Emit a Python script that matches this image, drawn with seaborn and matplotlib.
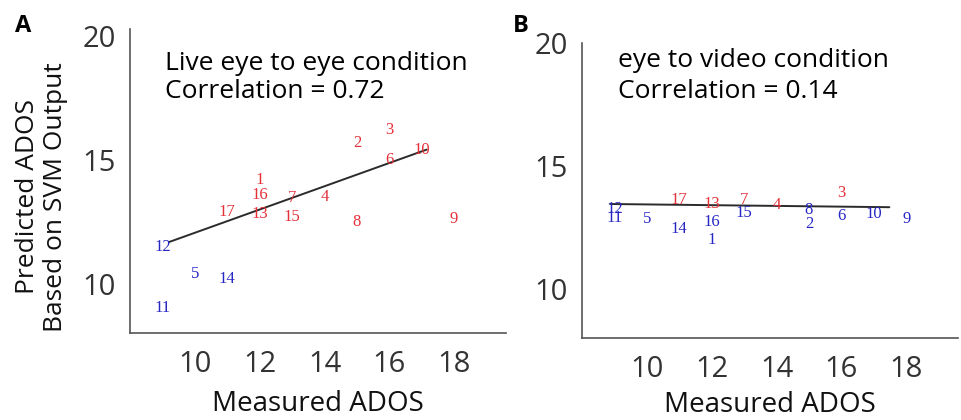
import matplotlib
matplotlib.use("Agg")
import matplotlib.pyplot as plt
import numpy as np
import pandas as pd
import seaborn as sns

# Subject ids and measured ADOS (same in both panels)
subject = list(range(1, 18))
measured = [12, 15, 16, 14, 10, 16, 13, 15, 18, 17, 9, 9, 12, 11, 13, 12, 11]

# Panel A: live eye to eye condition
pred_live = [14.2, 15.7, 16.2, 13.5, 10.4, 15.0, 13.45, 12.5, 12.6, 15.4,
             9.0, 11.5, 12.8, 10.2, 12.7, 13.6, 12.9]
group_live = ["r", "r", "r", "r", "b", "r", "r", "r", "r", "r",
              "b", "b", "r", "b", "r", "r", "r"]
fit_live_x = [9.2, 17.15]
fit_live_y = [11.68, 15.42]

# Panel B: eye to video condition
pred_video = [12.0, 12.65, 13.9, 13.4, 12.85, 12.95, 13.6, 13.2, 12.85, 13.05,
              12.9, 13.25, 13.45, 12.45, 13.1, 12.7, 13.6]
group_video = ["b", "b", "r", "r", "b", "b", "r", "b", "b", "b",
               "b", "b", "r", "b", "b", "b", "r"]
fit_video_x = [8.87, 17.48]
fit_video_y = [13.45, 13.32]

xticks = [10, 12, 14, 16, 18]
yticks = [10, 15, 20]
colors = {"r": "#e5303a", "b": "#2626c4"}

sns.set_style("white")
plt.rcParams["font.family"] = ["Open Sans", "DejaVu Sans"]

fig = plt.figure(figsize=(9.61, 4.2), dpi=100)
axA = fig.add_axes([0.1353, 0.207, 0.3912, 0.724])
axB = fig.add_axes([0.6055, 0.195, 0.3915, 0.703])


def panel(ax, pred, group, fx, fy, ytop, xpad):
    df = pd.DataFrame({"measured": measured, "pred": pred, "group": group,
                       "id": subject})
    fit = pd.DataFrame({"x": fx, "y": fy})
    sns.lineplot(data=fit, x="x", y="y", ax=ax, color="#2b2b2b", lw=1.4)
    for _, r in df.iterrows():
        ax.text(r["measured"], r["pred"], str(r["id"]), color=colors[r["group"]],
                ha="center", va="center", fontsize=12,
                family="Liberation Serif")
    ax.set_xlim(8, 19.6)
    ax.set_ylim(8, ytop)
    ax.set_xticks(xticks)
    ax.set_yticks(yticks)
    sns.despine(ax=ax)
    for s in ["left", "bottom"]:
        ax.spines[s].set_color("#555555")
        ax.spines[s].set_linewidth(1.2)
    ax.tick_params(direction="in", length=4, width=1, color="#555555",
                   labelsize=21, labelcolor="#333333")
    ax.tick_params(axis="x", pad=12)
    ax.tick_params(axis="y", pad=10)
    ax.set_xlabel("Measured ADOS", fontsize=20, color="#111111", labelpad=xpad)
    ax.set_ylabel("")


panel(axA, pred_live, group_live, fit_live_x, fit_live_y, 20.3, 8)
panel(axB, pred_video, group_video, fit_video_x, fit_video_y, 20.0, 5)

fig.text(0.043, 1 - 197 / 420, "Predicted ADOS\nBased on SVM Output",
         rotation=90, ha="center", va="center", fontsize=19,
         color="#111111", linespacing=1.15)

fig.text(0.1717, 1 - 70 / 420, "Live eye to eye condition", fontsize=19,
         va="baseline", color="black")
fig.text(0.1717, 1 - 98 / 420, "Correlation = 0.72", fontsize=19,
         va="baseline", color="black")
fig.text(0.643, 1 - 67 / 420, "eye to video condition", fontsize=19,
         va="baseline", color="black")
fig.text(0.643, 1 - 98 / 420, "Correlation = 0.14", fontsize=19,
         va="baseline", color="black")

fig.text(0.016, 1 - 32 / 420, "A", fontsize=17, fontweight="bold",
         va="baseline", color="black")
fig.text(0.534, 1 - 32 / 420, "B", fontsize=17, fontweight="bold",
         va="baseline", color="black")

fig.savefig("out.png", dpi=100)
